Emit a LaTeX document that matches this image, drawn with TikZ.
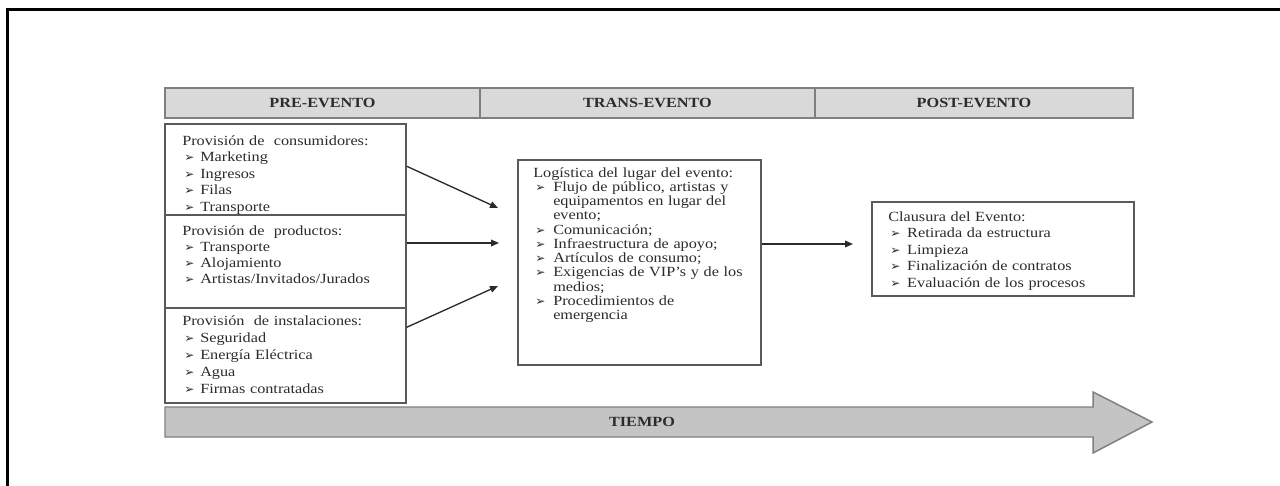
\documentclass[tikz,border=0pt]{standalone}
\usepackage{fontspec}
\setmainfont{Liberation Serif}[FakeStretch=1.16]
\newfontfamily\symfont{DejaVu Sans}
\usetikzlibrary{arrows.meta,calc,fit}
\definecolor{txt}{HTML}{2B2B2B}
\definecolor{boxline}{HTML}{5A5A5A}
\definecolor{hdrfill}{HTML}{D9D9D9}
\definecolor{hdrline}{HTML}{7F7F7F}
\definecolor{tfill}{HTML}{C4C4C4}
\newcommand\bl[1][13.5pt]{\hspace*{1.5pt}\makebox[\dimexpr#1-1.5pt\relax][l]{\symfont\fontsize{9}{9}\selectfont ➢}}
\newcommand\ind[1][13.5pt]{\hspace*{#1}}
\tikzset{
  box/.style={draw=boxline, line width=1.1pt, inner sep=0pt},
  hdr/.style={draw=hdrline, fill=hdrfill, line width=1.3pt, inner sep=0pt},
  hdrtxt/.style={inner sep=0pt, font=\fontsize{10.5}{12}\selectfont\bfseries, text=txt},
  boxtext/.style={inner sep=0pt, anchor=base west, align=left, text width=200pt, text=txt},
  conn/.style={draw=txt, line width=1pt, -{Triangle[length=6pt,width=5pt]}},
}
\begin{document}
\begin{tikzpicture}[x=0.75pt,y=-0.75pt]
\useasboundingbox (0,0) rectangle (1280,485);
% frame
\draw[line width=2.25pt, line cap=rect] (7.5,485) -- (7.5,9.5) -- (1280,9.5);
% header
\node[hdr, fit={(165,88) (480,118)}] (h1) {};
\node[hdr, fit={(480,88) (815,118)}] (h2) {};
\node[hdr, fit={(815,88) (1133,118)}] (h3) {};
\node[hdrtxt] (h1l) at (h1.center) {PRE-EVENTO};
\node[hdrtxt] (h2l) at (h2.center) {TRANS-EVENTO};
\node[hdrtxt] (h3l) at (h3.center) {POST-EVENTO};
% left boxes
\node[box, fit={(165,124) (406,215)}] (b1) {};
\node[box, fit={(165,215) (406,308)}] (b2) {};
\node[box, fit={(165,308) (406,403)}] (b3) {};
\node[boxtext, font=\fontsize{10.5}{12.4}\selectfont] (b1t) at (182,145)
  {Provisión de\ \ consumidores:\\ \bl Marketing\\ \bl Ingresos\\ \bl Filas\\ \bl Transporte};
\node[boxtext, font=\fontsize{10.5}{12.2}\selectfont] (b2t) at (182,235)
  {Provisión de\ \ productos:\\ \bl Transporte\\ \bl Alojamiento\\ \bl Artistas/Invitados/Jurados};
\node[boxtext, font=\fontsize{10.5}{12.75}\selectfont] (b3t) at (182,325)
  {Provisión\ \ de instalaciones:\\ \bl Seguridad\\ \bl Energía Eléctrica\\ \bl Agua\\ \bl Firmas contratadas};
% middle box
\node[box, fit={(518,160) (761,365)}] (m) {};
\node[boxtext, font=\fontsize{10.5}{10.7}\selectfont] (mt) at (533,177)
  {Logística del lugar del evento:\\
   \bl[15pt]Flujo de público, artistas y\\
   \ind[15pt]equipamentos en lugar del\\
   \ind[15pt]evento;\\
   \bl[15pt]Comunicación;\\
   \bl[15pt]Infraestructura de apoyo;\\
   \bl[15pt]Artículos de consumo;\\
   \bl[15pt]Exigencias de VIP's y de los\\
   \ind[15pt]medios;\\
   \bl[15pt]Procedimientos de\\
   \ind[15pt]emergencia};
% right box
\node[box, fit={(872,202) (1134,296)}] (r) {};
\node[boxtext, font=\fontsize{10.5}{12.4}\selectfont] (rt) at (888,221)
  {Clausura del Evento:\\
   \bl[14.2pt]Retirada da estructura\\
   \bl[14.2pt]Limpieza\\
   \bl[14.2pt]Finalización de contratos\\
   \bl[14.2pt]Evaluación de los procesos};
% arrow tips
\coordinate (t1) at (498,208);
\coordinate (t2) at (499,243);
\coordinate (t3) at (498,286);
\coordinate (t4) at (853,244);
\draw[conn] ($(b1.north east)+(0,43)$) -- (t1);
\draw[conn] (b2.east |- t2) -- (t2);
\draw[conn] ($(b3.north east)+(0,20)$) -- (t3);
\draw[conn] (m.east |- t4) -- (t4);
% time arrow
\draw[draw=hdrline, fill=tfill, line width=1.1pt, line join=miter]
  (165,407) -- (1093,407) -- (1093,392) -- (1152,422) -- (1093,453) -- (1093,437) -- (165,437) -- cycle;
\node[hdrtxt] (tiempo) at (642,422) {TIEMPO};
\end{tikzpicture}
\end{document}
